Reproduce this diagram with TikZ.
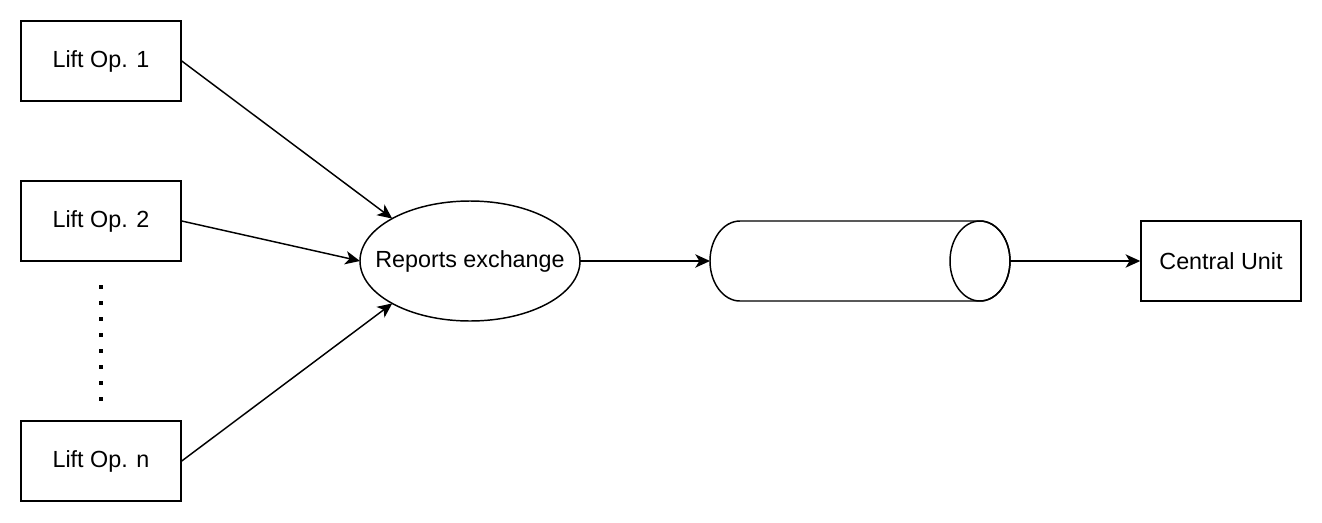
\documentclass[tikz,border=0pt]{standalone}
\usepackage{fontspec}
\setmainfont{Liberation Sans}
\usetikzlibrary{shapes.geometric,arrows.meta}
\begin{document}
\begin{tikzpicture}[x=0.75pt,y=-0.75pt,
  lw/.style={line width=1.1pt},
  lbl/.style={font=\fontsize{17.5pt}{21pt}\selectfont},
  box/.style={draw,lbl,lw,minimum width=120pt,minimum height=60pt,inner sep=0pt},
  arr/.style={-{Stealth[length=11pt,width=10pt,inset=3pt]},lw},
  dotsq/.style={fill=black,minimum size=2.6pt,inner sep=0pt}]
\useasboundingbox (0,0) rectangle (1322,522);
\node[box] (l1) at (101,61) {Lift Op. 1};
\node[box] (l2) at (101,221) {Lift Op. 2};
\node[box] (ln) at (101,461) {Lift Op. n};
\foreach \i in {0,...,7} {
  \node[dotsq] (d\i) at (101,{287+16*\i}) {};
}
\node[draw,ellipse,lw,minimum width=165pt,minimum height=90pt,inner sep=0pt,outer sep=0pt] (e) at (470,261) {};
\node[lbl,inner sep=0pt] (et) at (e.center) {Reports exchange};
\node[box] (cu) at (1221,261) {Central Unit};
% cylinder
\coordinate (cylL) at (710,261);
\coordinate (cylR) at (1010,261);
\draw[lw,fill=white] (740,221) -- (980,221) arc[start angle=90,end angle=-90,x radius=22.5pt,y radius=30pt] -- (740,301) arc[start angle=270,end angle=90,x radius=22.5pt,y radius=30pt] -- cycle;
\draw[lw] (980,261) ellipse[x radius=22.5pt,y radius=30pt];
\draw[arr] (l1.east) -- (e.north west);
\draw[arr] (l2.east) -- (e.west);
\draw[arr] (ln.east) -- (e.south west);
\draw[arr] (e.east) -- (cylL);
\draw[arr] (cylR) -- (cu.west);
\end{tikzpicture}
\end{document}
